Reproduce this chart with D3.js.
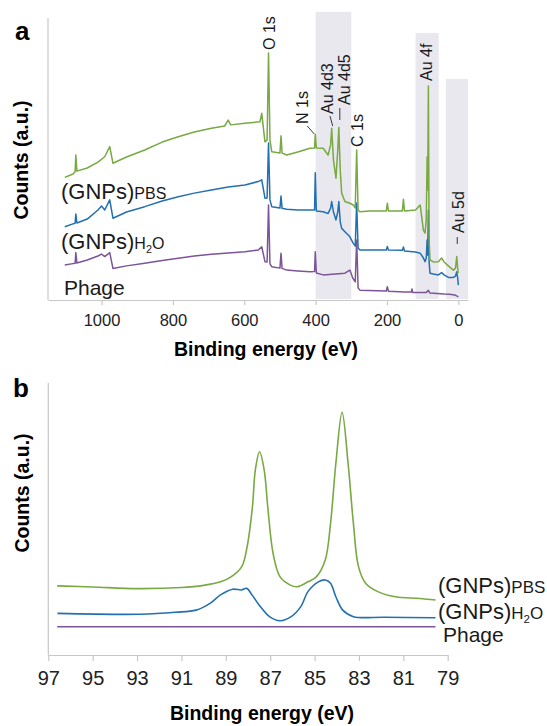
<!DOCTYPE html>
<head>
<meta charset="utf-8">
<script src="https://d3js.org/d3.v7.min.js"></script>
</head>
<style>
body { margin: 0; background: #fff; }
svg { font-family: "Liberation Sans", Arial, sans-serif; }
.axis path, .axis line { stroke: #c8c8c8; stroke-width: 1.2px; }
.axis text { fill: #222; }
.line { fill: none; stroke-linejoin: round; }
#pbs { stroke: #78a942; }
#h2o { stroke: #2370b0; }
#phage { stroke: #7b5597; }
</style>
<body>
<script>
// ---- data (energies in eV, counts in arbitrary units) ----
var surveyTicks = [1000, 800, 600, 400, 200, 0];
var auTicks = [97, 95, 93, 91, 89, 87, 85, 83, 81, 79];
var seriesIds = ["pbs", "h2o", "phage"];

var surveyPBS = [[1103,43.5],[1080,44.7],[1074,45.5],[1072,51.4],[1069,45.7],[1040,46.8],[1010,48.9],[991,50.8],[977,54.4],[968,48.5],[930,50.7],[879,53.2],[830,56.0],[785,57.9],[740,59.6],[692,60.9],[655,61.7],[645,63.8],[638,62.1],[598,62.7],[556,63.2],[551,66.2],[542,56.1],[536,56.7],[532,87.6],[528,56.7],[523,52.6],[500,52.1],[497,58.2],[494,52.1],[481,51.4],[450,52.5],[416,53.8],[403,53.9],[401,58.8],[398,53.9],[379,53.8],[365,51.4],[358,55.0],[355,60.9],[350,49.6],[343,43.2],[338,53.2],[335,61.2],[331,46.1],[327,37.9],[318,34.9],[304,34.3],[294.5,33.7],[289,32.6],[285,53.2],[281,31.9],[276,31.3],[250,31.6],[202,31.6],[199,34.3],[196,31.6],[157,31.6],[154,35.7],[151,31.6],[120,31.9],[107,33.7],[98,24.8],[93.5,23.7],[90,28.4],[87.5,50.7],[86,39.0],[84,75.9],[82,21.3],[79.5,14.2],[70,13.5],[56,13.6],[47,14.9],[40,13.5],[28,12.1],[14,10.6],[8,11.3],[4.5,15.4],[2,11.3],[0,9.5]];

var surveyH2O = [[1103,26.0],[1080,27.0],[1074,27.2],[1072,30.5],[1069,27.3],[1040,28.7],[1010,31.9],[1000,33.3],[991,31.9],[977,35.5],[968,29.0],[930,31.2],[879,33.1],[830,35.1],[785,36.6],[740,37.9],[692,39.0],[645,40.1],[598,40.8],[561,42.0],[551,42.6],[542,36.1],[536,36.2],[532,55.7],[528,35.5],[523,33.1],[500,32.6],[497,36.9],[494,32.5],[481,32.2],[450,31.9],[416,31.9],[403,31.9],[401,45.1],[398,31.6],[379,31.3],[365,30.7],[358,32.6],[355,34.9],[350,31.2],[343,28.4],[338,31.2],[335,34.9],[331,27.7],[327,25.4],[318,24.2],[304,22.4],[294.5,20.1],[289,19.1],[285,34.4],[281,18.4],[276,17.7],[250,17.7],[202,17.7],[199,19.0],[196,17.7],[157,17.6],[154,18.8],[151,17.4],[120,17.0],[107,16.6],[98,14.9],[93.5,13.6],[90,14.9],[87.5,21.3],[86,16.0],[84,31.9],[82,13.5],[79.5,9.5],[70,9.2],[56,8.9],[47,9.7],[40,8.9],[28,8.0],[14,8.0],[8,8.5],[4.5,10.0],[2,7.8],[0,5.3]];

var surveyPhage = [[1103,12.4],[1080,12.9],[1074,13.0],[1072,16.8],[1069,13.1],[1040,14.2],[1010,15.6],[1000,16.3],[991,15.4],[977,16.8],[968,11.2],[930,12.1],[879,13.0],[830,14.0],[785,14.8],[740,15.6],[692,16.2],[645,16.7],[598,17.1],[561,17.7],[551,18.9],[542,13.6],[536,13.5],[532,33.7],[528,12.8],[523,11.8],[500,11.3],[497,16.6],[494,11.2],[481,10.6],[450,10.3],[416,10.0],[403,10.1],[401,17.1],[398,9.6],[379,8.9],[345,9.2],[318,9.5],[304,10.6],[296,7.8],[289,6.4],[285,21.3],[281,4.3],[276,3.5],[250,3.4],[202,3.2],[199,4.7],[196,3.1],[150,2.8],[132,2.8],[130,3.9],[128,2.7],[90,2.7],[84,3.4],[80,2.5],[40,2.1],[25,2.0],[10,1.8],[0,1.1]];

var auPBS = [[96.6,25.4],[95,25.0],[93,24.4],[91,24.8],[90,25.6],[89.23,26.9],[88.75,28.8],[88.28,32.5],[88.04,39.8],[87.8,54.5],[87.67,68.0],[87.48,74.7],[87.27,68.0],[87.11,54.5],[86.87,37.4],[86.56,28.8],[86.09,25.7],[85.78,25.1],[85.3,26.9],[84.91,28.8],[84.52,34.9],[84.28,48.4],[84.04,70.5],[83.76,89.2],[83.49,70.5],[83.25,48.4],[83.02,32.5],[82.7,26.4],[82.15,23.3],[81.36,21.4],[80.26,20.8],[79.55,20.2]];

var auH2O = [[96.59,15.3],[92.86,15.0],[91.28,15.7],[90.34,16.5],[89.71,19.0],[89.24,22.1],[88.69,24.2],[88.3,23.9],[88.06,24.5],[87.82,22.1],[87.5,18.4],[87.03,14.1],[86.56,12.6],[86.09,13.9],[85.62,17.8],[85.3,23.3],[84.83,26.9],[84.52,27.6],[84.28,26.4],[84.04,21.4],[83.73,16.5],[83.25,14.1],[81.84,13.9],[79.55,13.7]];

var auPhage = [[96.6,10.4],[90,10.4],[85,10.4],[79.55,10.4]];

// grey bands behind the survey: [from eV, to eV, top in counts]
var bands = [[400, 300, 102.2], [120, 55, 94.7], [35, -27, 78.4]];

var peakNames = ["O 1s", "N 1s", "Au 4d3", "Au 4d5", "C 1s", "Au 4f", "Au 5d"];
var peakEnergies = [532, 401, 355, 335, 285, 84, 4.5];

// ---- drawing ----
var W = 547, H = 726;
var svg = d3.select("body").append("svg")
    .attr("width", W)
    .attr("height", H);

function labelText(g, name, big, small) {
  var t = g.append("text");
  if (name == "(GNPs)PBS") {
    t.append("tspan").style("font-size", big + "px").text("(GNPs)");
    t.append("tspan").style("font-size", small + "px").text("PBS");
  } else if (name == "(GNPs)H2O") {
    t.append("tspan").style("font-size", big + "px").text("(GNPs)");
    t.append("tspan").style("font-size", small + "px").text("H");
    t.append("tspan").style("font-size", (small * 0.68) + "px").attr("dy", 4).text("2");
    t.append("tspan").style("font-size", small + "px").attr("dy", -4).text("O");
  } else {
    t.style("font-size", (big - 1) + "px").text(name);
  }
  return t.attr("fill", "#1a1a1a");
}

// panel a: survey
var xA = d3.scaleLinear().domain([1150, -27]).range([48, 468]);
var yA = d3.scaleLinear().domain([0, 100]).range([300, 18]);

svg.append("g").selectAll("rect")
    .data(bands)
  .enter().append("rect")
    .attr("x", function(d) { return xA(d[0]); })
    .attr("width", function(d) { return xA(d[1]) - xA(d[0]); })
    .attr("y", function(d) { return yA(d[2]); })
    .attr("height", function(d) { return yA(0) - 1 - yA(d[2]); })
    .attr("fill", "#eae8ef");

svg.append("g")
    .attr("class", "axis")
    .attr("transform", "translate(0,300)")
    .call(d3.axisBottom(xA).tickValues(surveyTicks).tickFormat(d3.format("d"))
      .tickSize(5).tickSizeOuter(0).tickPadding(9))
    .call(function(g) { g.selectAll("text").style("font-size", "16.5px"); });
svg.append("line")
    .attr("x1", 48).attr("x2", 48).attr("y1", yA(100)).attr("y2", 300)
    .attr("stroke", "#c8c8c8").attr("stroke-width", 1.2);

var lineA = d3.line()
    .x(function(d) { return xA(d[0]); })
    .y(function(d) { return yA(d[1]); });

var surveys = [surveyPBS, surveyH2O, surveyPhage];
[2, 1, 0].forEach(function(i) {
  svg.append("path")
      .data([surveys[i]])
      .attr("class", "line")
      .attr("id", seriesIds[i])
      .attr("stroke-width", 1.5)
      .attr("d", lineA);
});

// peak labels (rotated), offsets relative to the peak position
var peakLayout = {
  "O 1s":   {dx: 6,   bottom: 50},
  "N 1s":   {dx: -7,  bottom: 124, lead: [-8, 126, -1, 134]},
  "Au 4d3": {dx: 1,   bottom: 114, lead: [-1.7, 116, 1, 126]},
  "Au 4d5": {dx: 11,  bottom: 105, lead: [1, 108, 1, 120]},
  "C 1s":   {dx: 6,   bottom: 147},
  "Au 4f":  {dx: 4,   bottom: 81},
  "Au 5d":  {dx: 7,   bottom: 233, lead: [0.5, 237, 0.5, 244]}
};
peakNames.forEach(function(name, i) {
  var px = xA(peakEnergies[i]), L = peakLayout[name];
  svg.append("text")
      .attr("transform", "translate(" + (px + L.dx) + "," + L.bottom + ") rotate(-90)")
      .style("font-size", "16px")
      .attr("fill", "#1a1a1a")
      .text(name);
  if (L.lead) {
    svg.append("line")
        .attr("x1", px + L.lead[0]).attr("y1", L.lead[1])
        .attr("x2", px + L.lead[2]).attr("y2", L.lead[3])
        .attr("stroke", "#222").attr("stroke-width", 0.9);
  }
});

var seriesNames = ["(GNPs)PBS", "(GNPs)H2O", "Phage"];
var aLabelPos = [[61, 198.5], [61, 248.5], [64, 295]];
seriesNames.forEach(function(n, i) {
  labelText(svg, n, 22, 16)
      .attr("x", aLabelPos[i][0]).attr("y", aLabelPos[i][1]);
});

svg.append("text").attr("x", 15).attr("y", 39.5)
    .style("font-size", "26px").style("font-weight", "bold").text("a");
svg.append("text")
    .attr("transform", "translate(28,160) rotate(-90)")
    .attr("text-anchor", "middle")
    .style("font-size", "19.5px").style("font-weight", "bold")
    .text("Counts (a.u.)");
svg.append("text").attr("x", 266).attr("y", 356)
    .attr("text-anchor", "middle")
    .style("font-size", "19.5px").style("font-weight", "bold")
    .text("Binding energy (eV)");

// panel b: Au 4f high resolution
var xB = d3.scaleLinear().domain([97, 79]).range([48.3, 447.7]);
var yB = d3.scaleLinear().domain([0, 100]).range([655, 383]);

svg.append("g")
    .attr("class", "axis")
    .attr("transform", "translate(0,655)")
    .call(d3.axisBottom(xB).tickValues(auTicks).tickSize(6).tickSizeOuter(0).tickPadding(10))
    .call(function(g) { g.selectAll("text").style("font-size", "20px"); });
svg.append("line")
    .attr("x1", 48.3).attr("x2", 48.3).attr("y1", yB(100)).attr("y2", 655)
    .attr("stroke", "#c8c8c8").attr("stroke-width", 1.2);

var lineB = d3.line()
    .curve(d3.curveCatmullRom.alpha(0.5))
    .x(function(d) { return xB(d[0]); })
    .y(function(d) { return yB(d[1]); });

var highres = [auPBS, auH2O, auPhage];
[2, 1, 0].forEach(function(i) {
  svg.append("path")
      .data([highres[i]])
      .attr("class", "line")
      .attr("id", seriesIds[i])
      .attr("stroke-width", 1.6)
      .attr("d", lineB);
});

var bLabelPos = [[438, 592.5], [438, 618.5], [443, 642]];
seriesNames.forEach(function(n, i) {
  labelText(svg, n, 22, 17)
      .attr("x", bLabelPos[i][0]).attr("y", bLabelPos[i][1]);
});

svg.append("text").attr("x", 13).attr("y", 397)
    .style("font-size", "26px").style("font-weight", "bold").text("b");
svg.append("text")
    .attr("transform", "translate(29,493) rotate(-90)")
    .attr("text-anchor", "middle")
    .style("font-size", "19.5px").style("font-weight", "bold")
    .text("Counts (a.u.)");
svg.append("text").attr("x", 262).attr("y", 720)
    .attr("text-anchor", "middle")
    .style("font-size", "19.5px").style("font-weight", "bold")
    .text("Binding energy (eV)");
</script>
</body>
